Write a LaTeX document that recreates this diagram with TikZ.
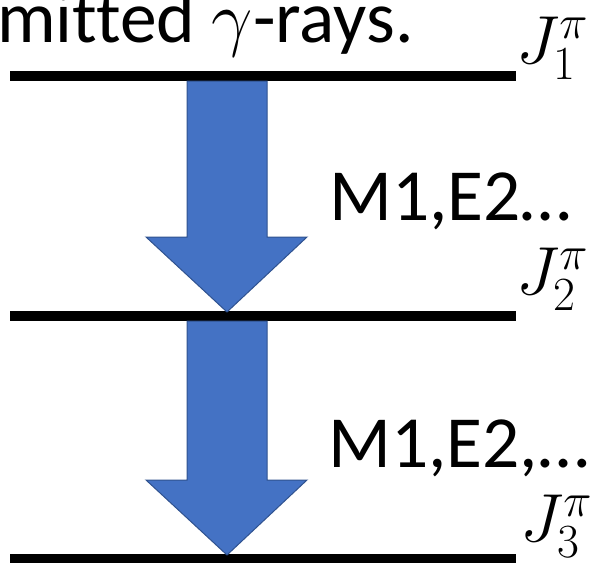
\documentclass[tikz,border=0pt]{standalone}
\usepackage{fix-cm}
\usepackage{fontspec}
\setmainfont{Carlito}[Ligatures=NoCommon]
\usetikzlibrary{calc}
\definecolor{arrowfill}{HTML}{4472C4}
\definecolor{arrowedge}{HTML}{2F528F}
\tikzset{
  level/.style={line width=10pt, black},
  bigarrow/.style={fill=arrowfill, draw=arrowedge, line width=1pt, line join=miter},
  txt/.style={inner sep=0pt, font=\fontsize{73.5}{86}\selectfont},
  jlab/.style={inner sep=0pt, font=\fontsize{68}{80}\selectfont},
}
\begin{document}
\begin{tikzpicture}[x=1pt,y=-1pt]
\useasboundingbox (0,0) rectangle (590,563);
% levels
\coordinate (l1w) at (10,76);  \coordinate (l1e) at (516,76);
\coordinate (l2w) at (10,316); \coordinate (l2e) at (516,316);
\coordinate (l3w) at (10,559); \coordinate (l3e) at (516,559);
\draw[level] (l1w) -- (l1e);
\draw[level] (l2w) -- (l2e);
\draw[level] (l3w) -- (l3e);
% arrows
\coordinate (a1s) at (227,81);  \coordinate (a1t) at (227,312);
\coordinate (a2s) at (227,321); \coordinate (a2t) at (227,555);
\draw[bigarrow] ($(a1s)+(-40,0)$) -- ($(a1s)+(40,0)$) -- (267,237) -- (307,237) -- (a1t) -- (146,237) -- (187,237) -- cycle;
\draw[bigarrow] ($(a2s)+(-40,0)$) -- ($(a2s)+(40,0)$) -- (267,480) -- (307,480) -- (a2t) -- (146,480) -- (187,480) -- cycle;
% texts
\node[txt, anchor=base west] (title) at (-3,42) {mitted $\gamma$-rays.};
\node[txt, anchor=base west] (m1) at (329,220) {M1,E2…};
\node[txt, anchor=base west] (m2) at (328,467) {M1,E2,…};
\node[jlab, anchor=base west] (j1) at (516,63) {$J^{\pi}_{1}$};
\node[jlab, anchor=base west] (j2) at (516,294) {$J^{\pi}_{2}$};
\node[jlab, anchor=base west] (j3) at (520,541) {$J^{\pi}_{3}$};
\end{tikzpicture}
\end{document}
